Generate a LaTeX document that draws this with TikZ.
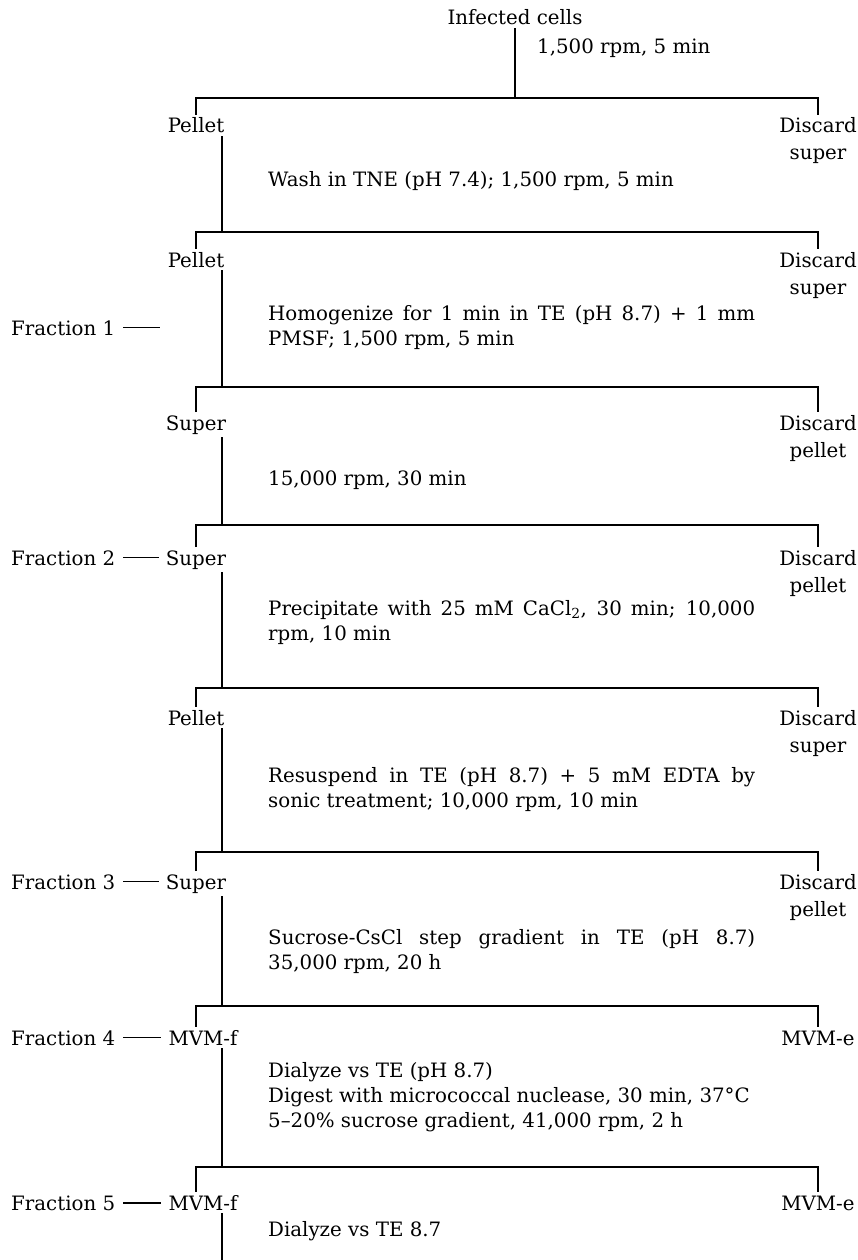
\documentclass[tikz,border=0pt]{standalone}
\usepackage{fontspec}
\setmainfont{DejaVu Serif}
\begin{document}
\begin{tikzpicture}[x=1pt,y=-1pt,
  every node/.style={font=\fontsize{19.8}{25}\selectfont, inner sep=3pt},
  lbl/.style={anchor=base},
  stp/.style={anchor=base west, inner sep=0pt},
  ln/.style={line width=1.8pt},
  dsh/.style={line width=1.3pt}]
\useasboundingbox (0,0) rectangle (858,1260);
\coordinate (tk) at (222,0);
\coordinate (bot) at (222,1260);
% horizontal right ends
\coordinate (h1) at (818,98);
\coordinate (h2) at (818,232);
\coordinate (h3) at (818,387);
\coordinate (h4) at (818,525);
\coordinate (h5) at (818,688);
\coordinate (h6) at (818,852);
\coordinate (h7) at (818,1006);
\coordinate (h8) at (818,1167);

\node[lbl] (inf) at (515,25) {Infected cells};
\node[stp] (s0) at (537,54) {1,500 rpm, 5 min};

% level 1
\node[lbl] (L1) at (196,133) {Pellet};
\node[lbl] (R1) at (818,133) {Discard};
\node[lbl] (R1b) at (818,160) {super};
\node[stp] (s1) at (268,186) {Wash in TNE (pH 7.4); 1,500 rpm, 5 min};
% level 2
\node[lbl] (L2) at (196,267) {Pellet};
\node[lbl] (R2) at (818,267) {Discard};
\node[lbl] (R2b) at (818,294) {super};
\node[lbl, anchor=base west] (F1) at (8,335) {Fraction 1};
\coordinate (F1e) at (160,0);
\node[stp] (s2) at (268,320) {\parbox[t]{487pt}{Homogenize for 1 min in TE (pH 8.7) + 1 mm\linebreak PMSF; 1,500 rpm, 5 min}};
% level 3
\node[lbl] (L3) at (196,430) {Super};
\node[lbl] (R3) at (818,430) {Discard};
\node[lbl] (R3b) at (818,457) {pellet};
\node[stp] (s3) at (268,485) {15,000 rpm, 30 min};
% level 4
\node[lbl] (L4) at (196,565) {Super};
\node[lbl, anchor=base west] (F2) at (8,565) {Fraction 2};
\node[lbl] (R4) at (818,565) {Discard};
\node[lbl] (R4b) at (818,592) {pellet};
\node[stp] (s4) at (268,615) {\parbox[t]{487pt}{Precipitate with 25 mM CaCl\textsubscript{2}, 30 min; 10,000\linebreak rpm, 10 min}};
% level 5
\node[lbl] (L5) at (196,725) {Pellet};
\node[lbl] (R5) at (818,725) {Discard};
\node[lbl] (R5b) at (818,752) {super};
\node[stp] (s5) at (268,782) {\parbox[t]{487pt}{Resuspend in TE (pH 8.7) + 5 mM EDTA by\linebreak sonic treatment; 10,000 rpm, 10 min}};
% level 6
\node[lbl] (L6) at (196,889) {Super};
\node[lbl, anchor=base west] (F3) at (8,889) {Fraction 3};
\node[lbl] (R6) at (818,889) {Discard};
\node[lbl] (R6b) at (818,916) {pellet};
\node[stp] (s6) at (268,944) {\parbox[t]{487pt}{Sucrose-CsCl step gradient in TE (pH 8.7)\linebreak 35,000 rpm, 20 h}};
% level 7
\node[lbl] (L7) at (203,1045) {MVM-f};
\node[lbl, anchor=base west] (F4) at (8,1045) {Fraction 4};
\node[lbl] (R7) at (818,1045) {MVM-e};
\node[stp] (s7) at (268,1077) {\parbox[t]{560pt}{\raggedright Dialyze vs TE (pH 8.7)\\ Digest with micrococcal nuclease, 30 min, 37°C\\ 5--20\% sucrose gradient, 41,000 rpm, 2 h}};
% level 8
\node[lbl] (L8) at (203,1210) {MVM-f};
\node[lbl, anchor=base west] (F5) at (8,1210) {Fraction 5};
\node[lbl] (R8) at (818,1210) {MVM-e};
\node[stp] (s8) at (268,1236) {Dialyze vs TE 8.7};

% connectors
\draw[ln] (inf.south) -- (inf.south |- h1);
\draw[ln] (L1.north -| 196,0) |- (h1) -- (R1.north);
\draw[ln] (L1.south -| tk) -- (h2 -| tk);
\draw[ln] (L2.north) |- (h2) -- (R2.north);
\draw[ln] (L2.south -| tk) -- (h3 -| tk);
\draw[ln] (L3.north) |- (h3) -- (R3.north);
\draw[ln] (L3.south -| tk) -- (h4 -| tk);
\draw[ln] (L4.north) |- (h4) -- (R4.north);
\draw[ln] (L4.south -| tk) -- (h5 -| tk);
\draw[ln] (L5.north) |- (h5) -- (R5.north);
\draw[ln] (L5.south -| tk) -- (h6 -| tk);
\draw[ln] (L6.north) |- (h6) -- (R6.north);
\draw[ln] (L6.south -| tk) -- (h7 -| tk);
\draw[ln] (L7.north -| 196,0) |- (h7) -- (R7.north);
\draw[ln] (L7.south -| tk) -- (h8 -| tk);
\draw[ln] (L8.north -| 196,0) |- (h8) -- (R8.north);
\draw[ln] (L8.south -| tk) -- (bot);

% fraction dashes
\draw[dsh] ([xshift=5pt]F1.east) -- (F1.east -| F1e);
\draw[dsh] ([xshift=5pt]F2.east) -- ([xshift=-4pt]F2.east -| L4.west);
\draw[dsh] ([xshift=5pt]F3.east) -- ([xshift=-4pt]F3.east -| L6.west);
\draw[dsh] ([xshift=5pt]F4.east) -- ([xshift=-4pt]F4.east -| L7.west);
\draw[dsh] ([xshift=5pt]F5.east) -- ([xshift=-4pt]F5.east -| L8.west);
\end{tikzpicture}
\end{document}
